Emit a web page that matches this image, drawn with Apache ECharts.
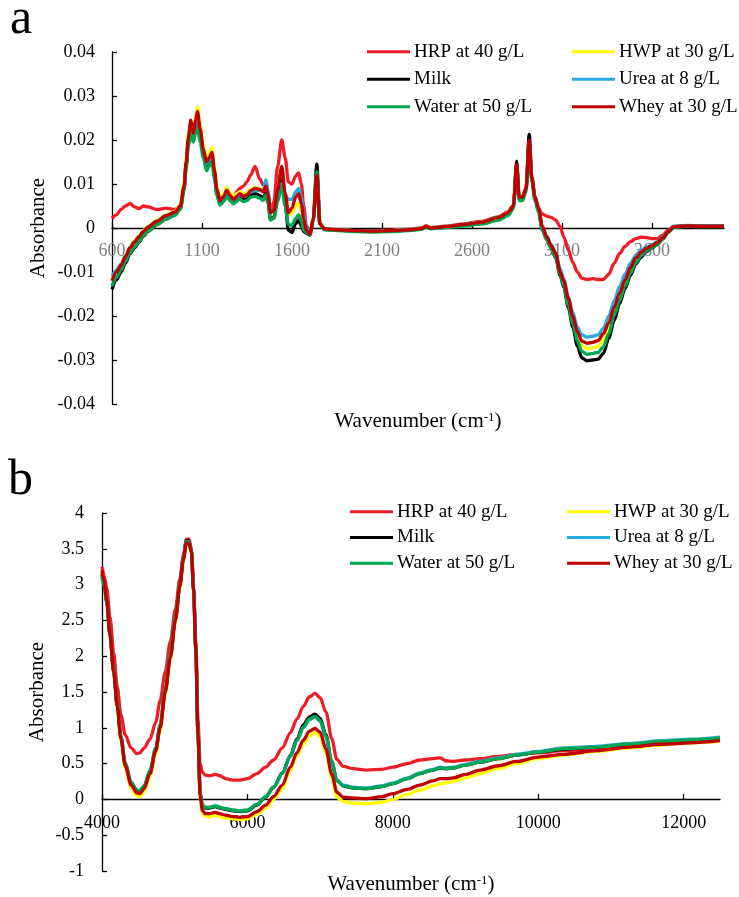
<!DOCTYPE html>
<html>
<head>
<meta charset="utf-8">
<script src="https://cdn.jsdelivr.net/npm/echarts@6/dist/echarts.min.js"></script>
<style>
html,body{margin:0;padding:0;background:#fff;}
#c{width:739px;height:897px;}
</style>
</head>
<body>
<div id="c"></div>
<script>
// ---------- Panel a (mid-IR) ----------
const waveA = [
600,625,650,675,700,725,750,775,800,850,
900,950,980,1000,1012,1024,1038,1052,1064,1075,
1090,1107,1125,1140,1155,1170,1182,1200,1220,1238,
1256,1275,1292,1310,1330,1350,1370,1395,1420,1440,
1455,1467,1480,1500,1520,1543,1562,1580,1600,1620,
1637,1652,1665,1680,1700,1718,1738,1755,1780,1850,
1950,2050,2150,2250,2320,2345,2370,2450,2550,2650,
2750,2800,2830,2848,2862,2880,2900,2918,2932,2950,
2970,2990,3015,3040,3065,3090,3110,3135,3160,3185,
3210,3240,3270,3300,3330,3360,3390,3420,3450,3480,
3510,3540,3570,3600,3630,3660,3690,3720,3760,3800,
3850,3900,3950,4000];

const hrpA = [
0.0022,0.0030,0.0042,0.0050,0.0056,0.0048,0.0044,0.0050,0.0048,0.0042,
0.0045,0.0042,0.0052,0.0092,0.0148,0.0200,0.0240,0.0215,0.0242,0.0262,
0.0222,0.0178,0.0150,0.0160,0.0170,0.0125,0.0085,0.0060,0.0075,0.0088,
0.0076,0.0070,0.0082,0.0090,0.0095,0.0105,0.0120,0.0140,0.0112,0.0098,
0.0100,0.0080,0.0040,0.0060,0.0140,0.0200,0.0160,0.0105,0.0100,0.0118,
0.0125,0.0100,0.0050,0.0005,-0.0010,0.0020,0.0120,0.0010,-0.0002,-0.0004,
-0.0006,-0.0006,-0.0005,-0.0003,0.0000,0.0005,0.0001,0.0004,0.0009,0.0015,
0.0026,0.0037,0.0052,0.0140,0.0072,0.0072,0.0090,0.0190,0.0115,0.0072,
0.0045,0.0032,0.0027,0.0024,0.0018,0.0003,-0.0020,-0.0050,-0.0078,-0.0100,
-0.0114,-0.0117,-0.0115,-0.0117,-0.0117,-0.0105,-0.0080,-0.0058,-0.0042,-0.0031,
-0.0024,-0.0021,-0.0022,-0.0024,-0.0024,-0.0016,-0.0005,0.0003,0.0004,0.0005,
0.0004,0.0004,0.0004,0.0004];

const hwpA = [
-0.0118,-0.0098,-0.0082,-0.0062,-0.0042,-0.0029,-0.0017,-0.0005,0.0005,0.0018,
0.0030,0.0038,0.0055,0.0100,0.0160,0.0215,0.0240,0.0220,0.0255,0.0275,
0.0235,0.0190,0.0160,0.0170,0.0182,0.0138,0.0095,0.0068,0.0078,0.0092,
0.0080,0.0072,0.0078,0.0082,0.0078,0.0080,0.0088,0.0092,0.0090,0.0086,
0.0098,0.0078,0.0036,0.0040,0.0080,0.0120,0.0070,0.0030,0.0035,0.0050,
0.0056,0.0040,0.0010,-0.0008,-0.0014,0.0018,0.0115,0.0010,-0.0002,-0.0004,
-0.0006,-0.0007,-0.0006,-0.0004,-0.0001,0.0004,0.0000,0.0003,0.0008,0.0013,
0.0024,0.0035,0.0050,0.0142,0.0070,0.0070,0.0090,0.0198,0.0115,0.0070,
0.0045,0.0003,-0.0022,-0.0042,-0.0062,-0.0100,-0.0125,-0.0168,-0.0209,-0.0246,
-0.0268,-0.0274,-0.0272,-0.0269,-0.0255,-0.0228,-0.0190,-0.0156,-0.0124,-0.0095,
-0.0073,-0.0058,-0.0048,-0.0041,-0.0034,-0.0022,-0.0008,0.0003,0.0004,0.0005,
0.0004,0.0004,0.0004,0.0004];

const milkA = [
-0.0140,-0.0118,-0.0100,-0.0080,-0.0058,-0.0045,-0.0032,-0.0018,-0.0008,0.0008,
0.0020,0.0030,0.0045,0.0088,0.0140,0.0195,0.0230,0.0205,0.0235,0.0255,
0.0215,0.0170,0.0140,0.0150,0.0162,0.0120,0.0080,0.0055,0.0064,0.0078,
0.0066,0.0058,0.0064,0.0070,0.0064,0.0066,0.0075,0.0078,0.0074,0.0068,
0.0080,0.0060,0.0020,0.0025,0.0075,0.0135,0.0055,-0.0005,-0.0010,0.0010,
0.0018,0.0005,-0.0008,-0.0012,-0.0016,0.0020,0.0145,0.0010,-0.0003,-0.0005,
-0.0007,-0.0008,-0.0007,-0.0005,-0.0002,0.0003,-0.0001,0.0002,0.0006,0.0011,
0.0021,0.0032,0.0048,0.0152,0.0068,0.0068,0.0088,0.0213,0.0115,0.0068,
0.0040,-0.0003,-0.0025,-0.0045,-0.0068,-0.0108,-0.0135,-0.0180,-0.0225,-0.0268,
-0.0295,-0.0302,-0.0300,-0.0298,-0.0285,-0.0250,-0.0210,-0.0172,-0.0138,-0.0108,
-0.0082,-0.0066,-0.0053,-0.0045,-0.0037,-0.0025,-0.0010,0.0002,0.0004,0.0005,
0.0004,0.0004,0.0004,0.0004];

const ureaA = [
-0.0110,-0.0095,-0.0082,-0.0063,-0.0044,-0.0031,-0.0019,-0.0007,0.0003,0.0016,
0.0028,0.0036,0.0050,0.0092,0.0145,0.0200,0.0235,0.0210,0.0238,0.0255,
0.0218,0.0175,0.0145,0.0155,0.0165,0.0125,0.0088,0.0062,0.0070,0.0082,
0.0072,0.0064,0.0070,0.0076,0.0072,0.0075,0.0082,0.0085,0.0085,0.0085,
0.0110,0.0085,0.0040,0.0040,0.0070,0.0100,0.0075,0.0065,0.0065,0.0082,
0.0090,0.0068,0.0030,0.0000,-0.0012,0.0018,0.0120,0.0010,-0.0002,-0.0004,
-0.0006,-0.0007,-0.0006,-0.0004,-0.0001,0.0004,0.0000,0.0003,0.0008,0.0013,
0.0024,0.0035,0.0050,0.0140,0.0070,0.0070,0.0090,0.0195,0.0112,0.0070,
0.0045,0.0003,-0.0018,-0.0038,-0.0056,-0.0092,-0.0116,-0.0155,-0.0192,-0.0225,
-0.0243,-0.0248,-0.0246,-0.0243,-0.0228,-0.0200,-0.0165,-0.0133,-0.0105,-0.0080,
-0.0062,-0.0050,-0.0043,-0.0038,-0.0031,-0.0020,-0.0007,0.0004,0.0005,0.0006,
0.0005,0.0005,0.0005,0.0005];

const waterA = [
-0.0132,-0.0112,-0.0095,-0.0076,-0.0056,-0.0043,-0.0030,-0.0017,-0.0007,0.0008,
0.0020,0.0029,0.0043,0.0085,0.0135,0.0185,0.0215,0.0195,0.0215,0.0225,
0.0195,0.0160,0.0130,0.0140,0.0150,0.0110,0.0075,0.0052,0.0060,0.0072,
0.0062,0.0055,0.0060,0.0066,0.0060,0.0062,0.0070,0.0072,0.0068,0.0063,
0.0075,0.0055,0.0018,0.0022,0.0060,0.0095,0.0050,0.0008,0.0006,0.0022,
0.0030,0.0015,-0.0004,-0.0010,-0.0015,0.0018,0.0128,0.0008,-0.0004,-0.0006,
-0.0008,-0.0009,-0.0008,-0.0006,-0.0003,0.0002,-0.0002,0.0001,0.0004,0.0009,
0.0018,0.0028,0.0044,0.0140,0.0062,0.0062,0.0082,0.0182,0.0105,0.0062,
0.0035,-0.0005,-0.0027,-0.0047,-0.0068,-0.0106,-0.0132,-0.0175,-0.0217,-0.0256,
-0.0280,-0.0287,-0.0285,-0.0283,-0.0270,-0.0240,-0.0198,-0.0165,-0.0132,-0.0103,
-0.0079,-0.0063,-0.0051,-0.0044,-0.0036,-0.0024,-0.0010,0.0001,0.0003,0.0004,
0.0003,0.0003,0.0003,0.0003];

const wheyA = [
-0.0120,-0.0100,-0.0085,-0.0065,-0.0045,-0.0032,-0.0020,-0.0008,0.0002,0.0015,
0.0028,0.0036,0.0050,0.0095,0.0150,0.0205,0.0245,0.0215,0.0245,0.0265,
0.0225,0.0180,0.0150,0.0160,0.0172,0.0130,0.0090,0.0062,0.0072,0.0086,
0.0074,0.0065,0.0072,0.0078,0.0072,0.0075,0.0085,0.0090,0.0088,0.0082,
0.0095,0.0075,0.0035,0.0040,0.0085,0.0140,0.0080,0.0035,0.0045,0.0070,
0.0078,0.0055,0.0020,-0.0005,-0.0014,0.0020,0.0120,0.0010,-0.0002,-0.0004,
-0.0006,-0.0007,-0.0006,-0.0004,-0.0001,0.0004,0.0000,0.0003,0.0008,0.0013,
0.0024,0.0035,0.0050,0.0145,0.0070,0.0070,0.0090,0.0200,0.0115,0.0070,
0.0045,0.0005,-0.0020,-0.0040,-0.0058,-0.0100,-0.0120,-0.0160,-0.0200,-0.0235,
-0.0257,-0.0262,-0.0260,-0.0256,-0.0240,-0.0215,-0.0180,-0.0148,-0.0118,-0.0090,
-0.0068,-0.0055,-0.0046,-0.0040,-0.0033,-0.0022,-0.0008,0.0003,0.0004,0.0005,
0.0004,0.0004,0.0004,0.0004];

const ticksAX = [600,1100,1600,2100,2600,3100,3600];

// ---------- Panel b (NIR) ----------
const waveB = [
4000,4030,4065,4110,4160,4210,4260,4320,4400,4480,
4520,4580,4660,4740,4800,4870,4940,5010,5070,5120,
5160,5195,5230,5260,5290,5320,5350,5380,5420,5480,
5560,5620,5700,5800,5900,6000,6130,6250,6360,6480,
6590,6680,6770,6850,6930,7000,7080,7160,7230,7320,
7450,7640,7850,8000,8200,8370,8550,8650,8730,8830,
9000,9200,9450,9700,10000,10350,10800,11250,11700,12100,
12500];

const hrpB = [
3.25,3.12,2.95,2.55,2.05,1.57,1.18,0.90,0.72,0.64,
0.65,0.72,0.84,1.08,1.38,1.78,2.20,2.66,3.08,3.42,
3.63,3.64,3.50,2.95,2.20,1.10,0.50,0.38,0.34,0.33,
0.35,0.33,0.29,0.27,0.27,0.29,0.36,0.45,0.55,0.72,
0.93,1.12,1.30,1.43,1.48,1.42,1.22,0.85,0.56,0.46,
0.43,0.41,0.42,0.45,0.50,0.55,0.57,0.58,0.54,0.53,
0.55,0.57,0.60,0.63,0.65,0.68,0.71,0.74,0.78,0.80,
0.82];

const hwpB = [
3.18,3.03,2.76,2.27,1.75,1.27,0.82,0.43,0.16,0.05,
0.04,0.11,0.32,0.64,0.96,1.46,1.95,2.47,2.95,3.33,
3.56,3.56,3.43,2.88,2.08,0.88,0.02,-0.19,-0.24,-0.24,
-0.22,-0.24,-0.26,-0.27,-0.28,-0.27,-0.21,-0.12,0.00,0.15,
0.40,0.60,0.77,0.89,0.93,0.88,0.65,0.30,0.03,-0.03,
-0.05,-0.06,-0.04,0.00,0.07,0.13,0.19,0.22,0.23,0.25,
0.30,0.36,0.43,0.50,0.57,0.62,0.67,0.72,0.76,0.79,
0.81];

const milkB = [
3.15,3.00,2.77,2.30,1.79,1.31,0.87,0.49,0.23,0.12,
0.11,0.18,0.39,0.71,1.03,1.52,2.01,2.52,2.99,3.37,
3.61,3.61,3.48,2.93,2.13,0.92,0.09,-0.09,-0.12,-0.12,
-0.10,-0.12,-0.14,-0.16,-0.17,-0.16,-0.08,0.03,0.17,0.37,
0.61,0.84,1.04,1.15,1.19,1.13,0.90,0.53,0.27,0.19,
0.16,0.15,0.18,0.22,0.29,0.36,0.41,0.44,0.43,0.44,
0.48,0.52,0.57,0.62,0.66,0.70,0.73,0.77,0.81,0.83,
0.85];

const ureaB = [
3.12,2.99,2.76,2.30,1.80,1.32,0.88,0.50,0.24,0.13,
0.12,0.19,0.40,0.72,1.04,1.53,2.02,2.53,3.00,3.38,
3.60,3.60,3.47,2.92,2.12,0.92,0.10,-0.08,-0.11,-0.11,
-0.09,-0.11,-0.13,-0.15,-0.16,-0.15,-0.07,0.04,0.17,0.36,
0.60,0.82,1.00,1.11,1.15,1.09,0.87,0.52,0.27,0.20,
0.17,0.16,0.19,0.23,0.30,0.37,0.42,0.45,0.44,0.45,
0.49,0.53,0.58,0.63,0.67,0.72,0.74,0.78,0.82,0.84,
0.87];

const waterB = [
3.10,2.98,2.76,2.30,1.80,1.32,0.88,0.50,0.24,0.13,
0.12,0.19,0.40,0.72,1.04,1.53,2.02,2.53,3.00,3.38,
3.60,3.60,3.47,2.92,2.12,0.92,0.10,-0.08,-0.11,-0.11,
-0.09,-0.11,-0.13,-0.15,-0.16,-0.15,-0.07,0.04,0.17,0.36,
0.60,0.82,1.01,1.12,1.16,1.10,0.88,0.52,0.26,0.19,
0.16,0.15,0.18,0.22,0.29,0.36,0.41,0.44,0.43,0.44,
0.48,0.52,0.57,0.62,0.66,0.71,0.73,0.77,0.81,0.83,
0.86];

const wheyB = [
3.20,3.05,2.78,2.30,1.78,1.30,0.85,0.47,0.20,0.09,
0.08,0.15,0.36,0.68,1.00,1.50,1.98,2.50,2.97,3.35,
3.58,3.58,3.45,2.90,2.10,0.90,0.05,-0.15,-0.20,-0.20,
-0.18,-0.20,-0.22,-0.24,-0.25,-0.24,-0.17,-0.08,0.04,0.20,
0.45,0.65,0.83,0.95,0.99,0.94,0.70,0.35,0.10,0.03,
0.02,0.01,0.04,0.08,0.14,0.20,0.26,0.29,0.29,0.30,
0.35,0.41,0.47,0.53,0.59,0.63,0.68,0.73,0.77,0.79,
0.82];

const ticksBX = [4000,6000,8000,10000,12000];

const seriesNames = ['HRP at 40 g/L','HWP at 30 g/L','Milk','Urea at 8 g/L','Water at 50 g/L','Whey at 30 g/L'];
const seriesColors = ['#ee1c24','#ffff00','#000000','#29abe2','#00a651','#c00000'];
const legendCol1 = ['HRP at 40 g/L','Milk','Water at 50 g/L'];
const legendCol2 = ['HWP at 30 g/L','Urea at 8 g/L','Whey at 30 g/L'];

// ---------- build ----------
const FONT = "'Liberation Serif','Times New Roman',serif";
const pairs = (xs, ys) => xs.map((x, i) => [x, ys[i]]);
const dataA = [hrpA, hwpA, milkA, ureaA, waterA, wheyA];
const dataB = [hrpB, hwpB, milkB, ureaB, waterB, wheyB];

function mkSeries(idx, xs, ys, k) {
  return {
    type: 'line', name: seriesNames[k], xAxisIndex: idx, yAxisIndex: idx,
    data: pairs(xs, ys), showSymbol: false, symbol: 'none',
    smooth: 0.3, smoothMonotone: 'x',
    lineStyle: {width: 3.3, color: seriesColors[k]},
    itemStyle: {color: seriesColors[k]},
    z: 2 + k
  };
}
const series = [];
dataA.forEach((ys, k) => series.push(mkSeries(0, waveA, ys, k)));
dataB.forEach((ys, k) => series.push(mkSeries(1, waveB, ys, k)));

function legend(left, top, gap, data) {
  return {
    orient: 'vertical', left: left, top: top, padding: 0, itemGap: gap,
    icon: 'rect', itemWidth: 43, itemHeight: 3, data: data,
    selectedMode: false,
    textStyle: {fontFamily: FONT, fontSize: 19, color: '#000', lineHeight: 20, padding: [0,0,0,-1]}
  };
}

const nameStyle = {
  fontFamily: FONT, fontSize: 21, color: '#000',
  rich: {sup: {fontFamily: FONT, fontSize: 13, color: '#000', verticalAlign: 'top', lineHeight: 14}}
};
const plain = v => String(v);

// x axes sit on the zero line of their y axes: offset = distance from grid bottom to y = 0
const option = {
  animation: false,
  backgroundColor: '#fff',
  title: [
    {text: 'a', left: 5, top: -10, textStyle: {fontFamily: FONT, fontSize: 50, fontWeight: 'normal', color: '#000'}},
    {text: 'b', left: 3, top: 451, textStyle: {fontFamily: FONT, fontSize: 50, fontWeight: 'normal', color: '#000'}}
  ],
  legend: [
    legend(367, 41.7, 7.5, legendCol1),
    legend(572, 41.7, 7.5, legendCol2),
    legend(350, 501.7, 5.8, legendCol1),
    legend(567, 501.7, 5.8, legendCol2)
  ],
  grid: [
    {left: 112, top: 52, width: 612, height: 352},
    {left: 102, top: 513, width: 618, height: 358}
  ],
  xAxis: [
    {
      type: 'value', gridIndex: 0, min: 600, max: 4000, interval: 500,
      position: 'bottom', offset: -176,
      axisLine: {show: true, onZero: false, lineStyle: {color: '#000', width: 1.3}},
      axisTick: {show: true, inside: true, length: 5, customValues: ticksAX, lineStyle: {color: '#000', width: 1.3}},
      axisLabel: {customValues: ticksAX, formatter: plain, margin: 14, fontFamily: FONT, fontSize: 18, color: '#7f7f7f'},
      splitLine: {show: false},
      name: 'Wavenumber (cm{sup|-1})', nameLocation: 'middle', nameGap: 183, nameMoveOverlap: false,
      nameTextStyle: nameStyle
    },
    {
      type: 'value', gridIndex: 1, min: 4000, max: 12500, interval: 2000,
      position: 'bottom', offset: -72,
      axisLine: {show: true, onZero: false, lineStyle: {color: '#000', width: 1.3}},
      axisTick: {show: true, inside: true, length: 5, customValues: ticksBX, lineStyle: {color: '#000', width: 1.3}},
      axisLabel: {customValues: ticksBX, formatter: plain, margin: 15, fontFamily: FONT, fontSize: 18, color: '#000'},
      splitLine: {show: false},
      name: 'Wavenumber (cm{sup|-1})', nameLocation: 'middle', nameGap: 75, nameMoveOverlap: false,
      nameTextStyle: nameStyle
    }
  ],
  yAxis: [
    {
      type: 'value', gridIndex: 0, min: -0.04, max: 0.04, interval: 0.01,
      axisLine: {show: true, onZero: false, lineStyle: {color: '#000', width: 1.3}},
      axisTick: {show: true, inside: true, length: 5, lineStyle: {color: '#000', width: 1.3}},
      axisLabel: {margin: 17, fontFamily: FONT, fontSize: 18, color: '#000'},
      splitLine: {show: false},
      name: 'Absorbance', nameLocation: 'middle', nameGap: 63, nameMoveOverlap: false,
      nameTextStyle: {fontFamily: FONT, fontSize: 21, color: '#000'}
    },
    {
      type: 'value', gridIndex: 1, min: -1, max: 4, interval: 0.5,
      axisLine: {show: true, onZero: false, lineStyle: {color: '#000', width: 1.3}},
      axisTick: {show: true, inside: true, length: 5, lineStyle: {color: '#000', width: 1.3}},
      axisLabel: {margin: 18, fontFamily: FONT, fontSize: 18, color: '#000'},
      splitLine: {show: false},
      name: 'Absorbance', nameLocation: 'middle', nameGap: 54, nameMoveOverlap: false,
      nameTextStyle: {fontFamily: FONT, fontSize: 21, color: '#000'}
    }
  ],
  series: series
};

const chart = echarts.init(document.getElementById('c'), null, {renderer: 'canvas'});
chart.setOption(option);
</script>
</body>
</html>
